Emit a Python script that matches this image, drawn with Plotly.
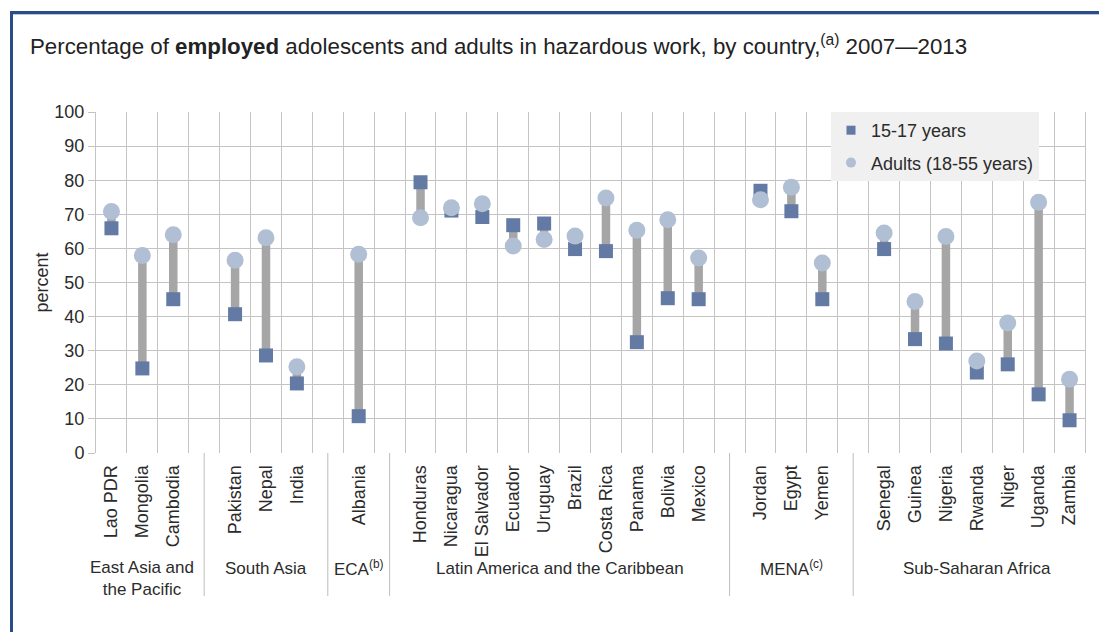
import plotly.graph_objects as go

# ---------------- data ----------------
regions = ["East Asia and<br>the Pacific", "South Asia", "ECA<sup>(b)</sup>",
           "Latin America and the Caribbean", "MENA<sup>(c)</sup>", "Sub-Saharan Africa"]
region_sizes = [3, 3, 1, 10, 3, 7]
countries = ["Lao PDR", "Mongolia", "Cambodia",
             "Pakistan", "Nepal", "India",
             "Albania",
             "Honduras", "Nicaragua", "El Salvador", "Ecuador", "Uruguay", "Brazil",
             "Costa Rica", "Panama", "Bolivia", "Mexico",
             "Jordan", "Egypt", "Yemen",
             "Senegal", "Guinea", "Nigeria", "Rwanda", "Niger", "Uganda", "Zambia"]
teen = [65.9, 24.8, 45.1,
        40.7, 28.6, 20.4,
        10.8,
        79.4, 71.1, 69.2, 66.8, 67.3, 59.8,
        59.2, 32.5, 45.4, 45.1,
        76.9, 70.9, 45.1,
        59.8, 33.4, 32.1, 23.6, 26.0, 17.2, 9.6]
adults = [70.8, 57.9, 64.0,
          56.5, 63.1, 25.3,
          58.3,
          69.0, 71.9, 73.1, 60.7, 62.6, 63.6,
          74.8, 65.3, 68.4, 57.2,
          74.3, 77.9, 55.7,
          64.5, 44.4, 63.5, 27.0, 38.1, 73.5, 21.6]
y_ticks = list(range(0, 101, 10))

# ---------------- layout constants ----------------
W, H = 1099, 632
ML, MR, MT, MB = 96, 14, 112, 179
PW, PH = W - ML - MR, H - MT - MB

def px_x(p):
    return (p - ML) / PW

def px_y(p):
    return (H - MB - p) / PH

# slot positions (one empty slot between regions)
pos, gaps, centers = [], [], []
s = 0
for i, n in enumerate(region_sizes):
    block = list(range(s, s + n))
    pos += block
    centers.append((block[0] + block[-1]) / 2)
    s += n
    if i < len(region_sizes) - 1:
        gaps.append(s)
        s += 1
nslots = s

SQ = "#627aa4"
CI = "#b0bfd4"
GRID = "#c4c4c4"
TXT = "#2b2b2b"
FONT = "Liberation Sans, Arial, sans-serif"

fig = go.Figure()

# connecting bars
lx, ly = [], []
for p, a, b in zip(pos, teen, adults):
    lx += [p, p, None]
    ly += [a, b, None]
fig.add_trace(go.Scatter(x=lx, y=ly, mode="lines", line=dict(color="#a6a6a6", width=8.5),
                         showlegend=False, hoverinfo="skip"))
fig.add_trace(go.Scatter(x=pos, y=teen, mode="markers", name="15-17 years",
                         marker=dict(symbol="square", size=14, color=SQ), showlegend=False))
fig.add_trace(go.Scatter(x=pos, y=adults, mode="markers", name="Adults (18-55 years)",
                         marker=dict(symbol="circle", size=17, color=CI), showlegend=False))
# legend entries
fig.add_trace(go.Scatter(x=[None], y=[None], mode="markers", name="15-17 years",
                         legendgroup="a", marker=dict(symbol="square", size=9, color=SQ)))
fig.add_trace(go.Scatter(x=[None], y=[None], mode="markers", name="Adults (18-55 years)",
                         legendgroup="b", marker=dict(symbol="circle", size=10, color=CI)))

shapes = []
# region separators below axis
for g in gaps:
    shapes.append(dict(type="line", xref="x", yref="paper", x0=g, x1=g,
                       y0=0, y1=px_y(596), line=dict(color="#bdbdbd", width=1)))
# outer frame (blue)
shapes.append(dict(type="line", xref="paper", yref="paper", x0=px_x(10), x1=px_x(W + 5),
                   y0=px_y(12.5), y1=px_y(12.5), line=dict(color="#2a4d89", width=3)))
shapes.append(dict(type="line", xref="paper", yref="paper", x0=px_x(13), x1=px_x(W + 5),
                   y0=px_y(14.5), y1=px_y(14.5), line=dict(color="#b9c7df", width=1)))
shapes.append(dict(type="line", xref="paper", yref="paper", x0=px_x(11.5), x1=px_x(11.5),
                   y0=px_y(11), y1=px_y(H + 5), line=dict(color="#2a4d89", width=3)))

annotations = []
annotations.append(dict(text="Percentage of <b>employed</b> adolescents and adults in hazardous work, by country,<sup>(a)</sup> 2007\u20142013",
                        xref="paper", yref="paper", x=px_x(28), y=px_y(45),
                        xanchor="left", yanchor="middle", showarrow=False,
                        font=dict(size=22.3, color="#222222", family=FONT)))
for r, c in zip(regions, centers):
    two = "<br>" in r
    annotations.append(dict(text=r, xref="x", yref="paper", x=c,
                            y=px_y(578 if two else 568), xanchor="center", yanchor="middle",
                            showarrow=False, font=dict(size=17, color=TXT, family=FONT)))

fig.update_layout(
    width=W, height=H,
    margin=dict(l=ML, r=MR, t=MT, b=MB),
    paper_bgcolor="white", plot_bgcolor="white",
    font=dict(family=FONT, color=TXT),
    shapes=shapes, annotations=annotations,
    legend=dict(x=px_x(831), y=1.0, xanchor="left", yanchor="top",
                bgcolor="#f0f0f0", font=dict(size=18, color=TXT, family=FONT),
                tracegroupgap=6, itemwidth=30),
    xaxis=dict(range=[-0.5, nslots - 0.5], tickmode="array", tickvals=pos, ticktext=countries,
               tickangle=-90, ticks="outside", ticklen=4, tickcolor="rgba(0,0,0,0)",
               tickfont=dict(size=18, color=TXT, family=FONT), showgrid=False, zeroline=False,
               minor=dict(tickmode="array", tickvals=[i - 0.5 for i in range(nslots + 1)],
                          showgrid=True, gridcolor=GRID, gridwidth=1, ticks=""),
               fixedrange=True),
    yaxis=dict(range=[0, 100], tickmode="array", tickvals=y_ticks, showgrid=True,
               gridcolor=GRID, gridwidth=1, ticks="outside", ticklen=7, tickcolor=GRID,
               tickfont=dict(size=18, color=TXT, family=FONT), zeroline=False,
               showline=True, linecolor=GRID, mirror=True, fixedrange=True,
               title=dict(text="percent", font=dict(size=18, color=TXT, family=FONT), standoff=1)),
)

fig.write_html("out.html", config={"displayModeBar": False},
               post_script="document.body.style.margin='0';document.body.style.padding='0';")
